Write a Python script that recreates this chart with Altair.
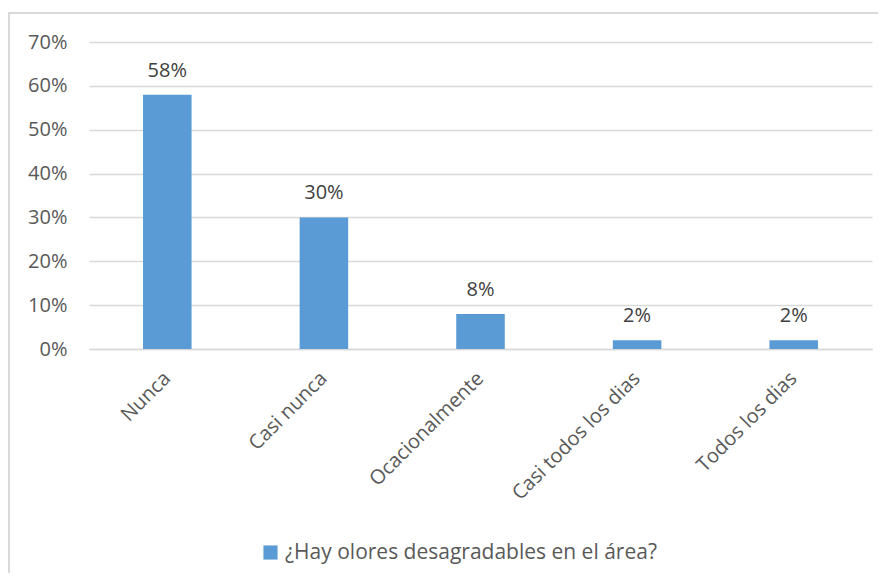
import altair as alt
import pandas as pd

categories = ["Nunca", "Casi nunca", "Ocacionalmente", "Casi todos los dias", "Todos los dias"]
values = [0.58, 0.30, 0.08, 0.02, 0.02]
series_name = "¿Hay olores desagradables en el área?"
y_ticks = [0, 0.1, 0.2, 0.3, 0.4, 0.5, 0.6, 0.7]

df = pd.DataFrame({"cat": categories, "val": values, "serie": [series_name] * len(categories)})

FONT = "Open Sans"
TXT = "#595959"
BLUE = "#5B9BD5"
GRID = "#D9D9D9"

x_enc = alt.X("cat:N", sort=categories, title=None,
              scale=alt.Scale(paddingInner=0.69, paddingOuter=0.345),
              axis=alt.Axis(labelAngle=-45, labelAlign="right", labelBaseline="middle",
                            labelFontSize=20, labelColor=TXT, labelFont=FONT,
                            labelPadding=26, ticks=False, domainColor=GRID, domainWidth=1.3,
                            labelOverlap=False))
y_enc = alt.Y("val:Q", title=None,
              scale=alt.Scale(domain=[0, 0.7], nice=False),
              axis=alt.Axis(values=y_ticks, format=".0%", labelFontSize=20, labelColor=TXT,
                            labelFont=FONT, labelPadding=22, ticks=False, domain=False,
                            gridColor=GRID, gridWidth=1.3))

bars = alt.Chart(df).mark_bar(color=BLUE).encode(
    x=x_enc, y=y_enc,
    color=alt.Color("serie:N", scale=alt.Scale(range=[BLUE]), title=None,
                    legend=alt.Legend(orient="none", legendX=171, legendY=500,
                                      symbolType="square", symbolSize=200,
                                      symbolStrokeWidth=0, labelFontSize=21,
                                      labelColor=TXT, labelFont=FONT, labelLimit=600)),
)

labels = alt.Chart(df).mark_text(baseline="alphabetic", dy=-18, fontSize=20,
                                 color="#404040", font=FONT).encode(
    x=alt.X("cat:N", sort=categories), y="val:Q",
    text=alt.Text("val:Q", format=".0%"))

frame = alt.Chart(df).mark_rect(fill=None, stroke=GRID, strokeWidth=2).encode(
    x=alt.value(-80), x2=alt.value(900), y=alt.value(-29), y2=alt.value(700))

chart = alt.layer(frame, bars, labels).properties(
    width=783, height=307,
    padding={"left": 81, "top": 34, "right": 6, "bottom": 224},
    autosize=alt.AutoSizeParams(type="none"),
).configure_view(stroke=None)

chart.save("out.html", embed_options={"renderer": "svg", "actions": False})
